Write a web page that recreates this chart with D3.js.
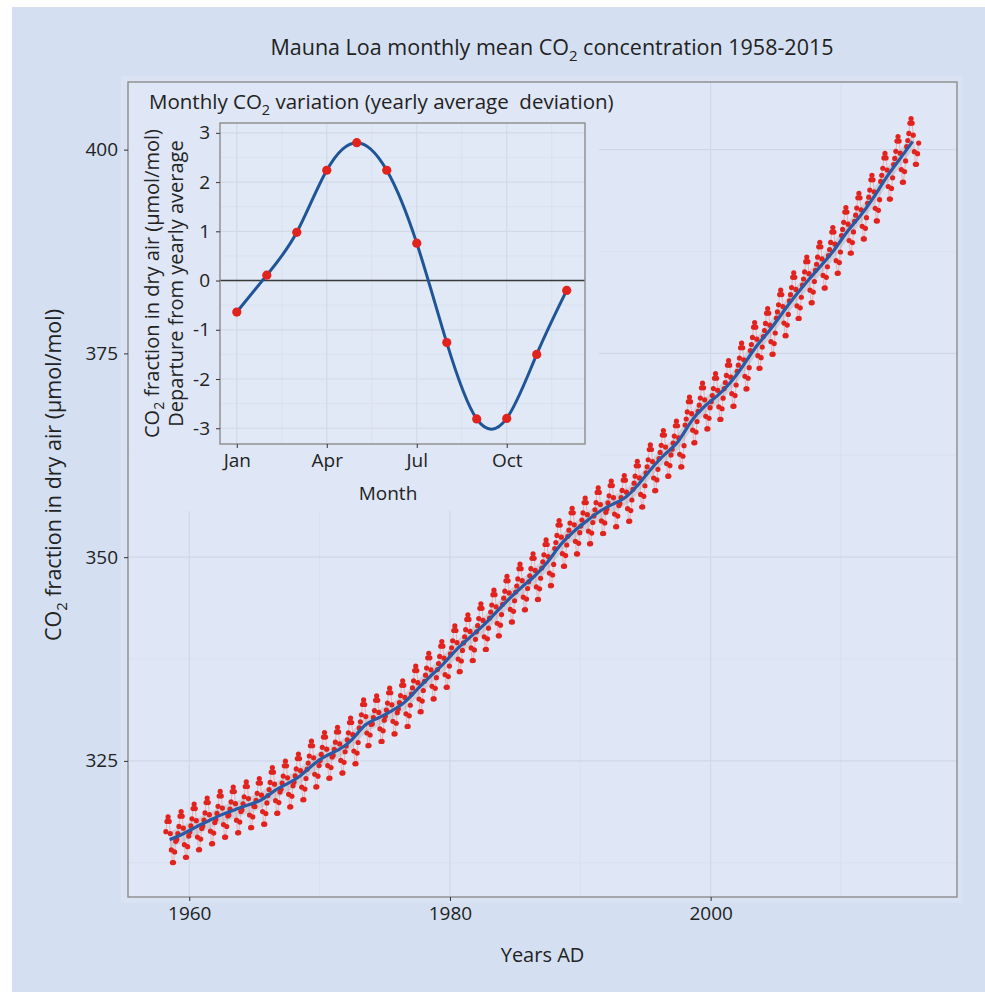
<!DOCTYPE html>
<html lang="en">
<head>
    <meta charset="utf-8">
    <script src="https://cdn.jsdelivr.net/npm/d3@7"></script>
    <style>
        body { margin: 0; background: #fff; }
        text { font-family: "Open Sans", sans-serif; fill: #222; }
        .tick text { font-size: 19px; fill: #222; font-family: "Open Sans", sans-serif; }
        .tick line { stroke: #333; }
    </style>
</head>
<body>
<script type="text/javascript">
    // yearly mean CO2 at Mauna Loa (1958 = Mar..Dec only)
    var years = [1958, 1959, 1960, 1961, 1962, 1963, 1964, 1965, 1966, 1967,
        1968, 1969, 1970, 1971, 1972, 1973, 1974, 1975, 1976, 1977,
        1978, 1979, 1980, 1981, 1982, 1983, 1984, 1985, 1986, 1987,
        1988, 1989, 1990, 1991, 1992, 1993, 1994, 1995, 1996, 1997,
        1998, 1999, 2000, 2001, 2002, 2003, 2004, 2005, 2006, 2007,
        2008, 2009, 2010, 2011, 2012, 2013, 2014, 2015];
    var annualMean = [315.33, 315.98, 316.91, 317.64, 318.45, 318.99, 319.62, 320.04, 321.38, 322.16,
        323.04, 324.62, 325.68, 326.32, 327.46, 329.68, 330.19, 331.12, 332.03, 333.84,
        335.41, 336.84, 338.76, 340.12, 341.48, 343.15, 344.85, 346.35, 347.61, 349.31,
        351.69, 353.20, 354.45, 355.70, 356.54, 357.21, 358.96, 360.97, 362.74, 363.88,
        366.84, 368.54, 369.71, 371.32, 373.45, 375.98, 377.70, 379.98, 382.09, 384.02,
        385.83, 387.64, 390.10, 391.85, 394.06, 396.74, 398.81, 401.01];
    var firstMonth = 3; // record starts March 1958

    // inset: monthly departure from yearly average
    var monthNumbers = [1, 2, 3, 4, 5, 6, 7, 8, 9, 10, 11, 12];
    var monthlyDeviation = [-0.64, 0.11, 0.98, 2.24, 2.80, 2.24, 0.76, -1.26, -2.81, -2.80, -1.50, -0.20];

    var mainXTicks = [1960, 1980, 2000];
    var mainXMinor = [1970, 1990, 2010];
    var mainYTicks = [325, 350, 375, 400];
    var mainYMinor = [312.5, 337.5, 362.5, 387.5];
    var insetXTicks = [1, 4, 7, 10];
    var insetXLabels = ["Jan", "Apr", "Jul", "Oct"];
    var insetXMinor = [2.5, 5.5, 8.5, 11.5];
    var insetYTicks = [-3, -2, -1, 0, 1, 2, 3];
    var insetYMinor = [-2.5, -1.5, -0.5, 0.5, 1.5, 2.5];

    var width = 985, height = 992;
    var panel = {left: 128, right: 957, top: 82, bottom: 897};
    var ipanel = {left: 220, right: 585, top: 123, bottom: 444};

    var panelFill = "#dfe6f5";
    var red = "#e2231d";
    var blue = "#2a5aa5";

    var svg = d3.select("body").append("svg")
        .attr("width", width)
        .attr("height", height);

    svg.append("rect").attr("x", 12).attr("y", 7)
        .attr("width", width - 12).attr("height", height - 7)
        .attr("fill", "#d4e0f1");
    svg.append("rect").attr("x", 121).attr("y", 76)
        .attr("width", 842).attr("height", 827)
        .attr("fill", "#d9e3f3");

    // monthly points built from yearly mean + monthly departure
    var monthly = [];
    years.forEach(function (yr, i) {
        monthNumbers.forEach(function (m, j) {
            if (i === 0 && m < firstMonth) return;
            monthly.push({t: yr + (m - 0.5) / 12, v: annualMean[i] + monthlyDeviation[j]});
        });
    });
    var trend = years.map(function (yr, i) { return {t: yr + 0.5, v: annualMean[i]}; });

    var x = d3.scaleLinear().domain([1955.3, 2018.9]).range([panel.left, panel.right]);
    var y = d3.scaleLinear().domain([308.3, 408.3]).range([panel.bottom, panel.top]);

    var g = svg.append("g");
    g.append("rect")
        .attr("x", panel.left).attr("y", panel.top)
        .attr("width", panel.right - panel.left).attr("height", panel.bottom - panel.top)
        .attr("fill", panelFill);

    // grid
    g.selectAll(".vminor").data(mainXMinor).enter().append("line")
        .attr("x1", function (d) { return x(d); }).attr("x2", function (d) { return x(d); })
        .attr("y1", panel.top).attr("y2", panel.bottom)
        .attr("stroke", "#d9e0ee").attr("stroke-width", 1);
    g.selectAll(".hminor").data(mainYMinor).enter().append("line")
        .attr("y1", function (d) { return y(d); }).attr("y2", function (d) { return y(d); })
        .attr("x1", panel.left).attr("x2", panel.right)
        .attr("stroke", "#d9e0ee").attr("stroke-width", 1);
    g.selectAll(".vmajor").data(mainXTicks).enter().append("line")
        .attr("x1", function (d) { return x(d); }).attr("x2", function (d) { return x(d); })
        .attr("y1", panel.top).attr("y2", panel.bottom)
        .attr("stroke", "#d0d8e8").attr("stroke-width", 1.2);
    g.selectAll(".hmajor").data(mainYTicks).enter().append("line")
        .attr("y1", function (d) { return y(d); }).attr("y2", function (d) { return y(d); })
        .attr("x1", panel.left).attr("x2", panel.right)
        .attr("stroke", "#d0d8e8").attr("stroke-width", 1.2);

    // inset background hides the main grid
    g.append("rect").attr("x", panel.left + 1).attr("y", panel.top + 1)
        .attr("width", 470).attr("height", 428).attr("fill", panelFill);

    // trend ribbon
    var ribbon = d3.area().curve(d3.curveBasis)
        .x(function (d) { return x(d.t); })
        .y0(function (d) { return y(d.v - 1.0); })
        .y1(function (d) { return y(d.v + 1.0); });
    g.append("path").datum(trend).attr("d", ribbon)
        .attr("fill", "#9a9a9a").attr("opacity", 0.3);

    g.append("path").datum(monthly)
        .attr("d", d3.line().x(function (d) { return x(d.t); }).y(function (d) { return y(d.v); }))
        .attr("fill", "none").attr("stroke", "#f09a9a").attr("stroke-width", 1).attr("opacity", 0.7);

    g.selectAll(".pt").data(monthly).enter().append("circle")
        .attr("cx", function (d) { return x(d.t); })
        .attr("cy", function (d) { return y(d.v); })
        .attr("r", 2.6)
        .attr("fill", red);

    g.append("path").datum(trend)
        .attr("d", d3.line().curve(d3.curveBasis)
            .x(function (d) { return x(d.t); }).y(function (d) { return y(d.v); }))
        .attr("fill", "none").attr("stroke", blue).attr("stroke-width", 3.2);

    g.append("rect")
        .attr("x", panel.left).attr("y", panel.top)
        .attr("width", panel.right - panel.left).attr("height", panel.bottom - panel.top)
        .attr("fill", "none").attr("stroke", "#8c8c8c").attr("stroke-width", 1.4);

    var xAxis = svg.append("g").attr("transform", "translate(0," + panel.bottom + ")")
        .call(d3.axisBottom(x).tickValues(mainXTicks).tickFormat(d3.format("d")).tickSize(4).tickPadding(6));
    xAxis.select(".domain").remove();
    var yAxis = svg.append("g").attr("transform", "translate(" + panel.left + ",0)")
        .call(d3.axisLeft(y).tickValues(mainYTicks).tickSize(4).tickPadding(6));
    yAxis.select(".domain").remove();

    // titles
    var title = svg.append("text").attr("x", 552).attr("y", 55)
        .attr("text-anchor", "middle").style("font-size", "21.5px");
    title.append("tspan").text("Mauna Loa monthly mean CO");
    title.append("tspan").attr("dy", 6).style("font-size", "15px").text("2");
    title.append("tspan").attr("dy", -6).text(" concentration 1958-2015");

    svg.append("text").attr("x", (panel.left + panel.right) / 2).attr("y", 962)
        .attr("text-anchor", "middle").style("font-size", "20px").text("Years AD");

    var ylab = svg.append("text")
        .attr("transform", "translate(61,475) rotate(-90)")
        .attr("text-anchor", "middle").style("font-size", "21.5px");
    ylab.append("tspan").text("CO");
    ylab.append("tspan").attr("dy", 6).style("font-size", "15px").text("2");
    ylab.append("tspan").attr("dy", -6).text(" fraction in dry air (\u03bcmol/mol)");

    // ---- inset ----
    var inset = svg.append("g");

    var ix = d3.scaleLinear().domain([0.44, 12.61]).range([ipanel.left, ipanel.right]);
    var iy = d3.scaleLinear().domain([-3.32, 3.2]).range([ipanel.bottom, ipanel.top]);

    inset.append("rect")
        .attr("x", ipanel.left).attr("y", ipanel.top)
        .attr("width", ipanel.right - ipanel.left).attr("height", ipanel.bottom - ipanel.top)
        .attr("fill", "#e1e8f6");

    inset.selectAll(".ivminor").data(insetXMinor).enter().append("line")
        .attr("x1", function (d) { return ix(d); }).attr("x2", function (d) { return ix(d); })
        .attr("y1", ipanel.top).attr("y2", ipanel.bottom)
        .attr("stroke", "#dae1ef");
    inset.selectAll(".ihminor").data(insetYMinor).enter().append("line")
        .attr("y1", function (d) { return iy(d); }).attr("y2", function (d) { return iy(d); })
        .attr("x1", ipanel.left).attr("x2", ipanel.right)
        .attr("stroke", "#dae1ef");
    inset.selectAll(".ivmajor").data(insetXTicks).enter().append("line")
        .attr("x1", function (d) { return ix(d); }).attr("x2", function (d) { return ix(d); })
        .attr("y1", ipanel.top).attr("y2", ipanel.bottom)
        .attr("stroke", "#d2d9e8").attr("stroke-width", 1.2);
    inset.selectAll(".ihmajor").data(insetYTicks).enter().append("line")
        .attr("y1", function (d) { return iy(d); }).attr("y2", function (d) { return iy(d); })
        .attr("x1", ipanel.left).attr("x2", ipanel.right)
        .attr("stroke", "#d2d9e8").attr("stroke-width", 1.2);

    inset.append("line")
        .attr("x1", ipanel.left).attr("x2", ipanel.right)
        .attr("y1", iy(0)).attr("y2", iy(0))
        .attr("stroke", "#3a3a3a").attr("stroke-width", 1.6);

    var seasonal = monthNumbers.map(function (m, i) { return {m: m, v: monthlyDeviation[i]}; });
    inset.append("path").datum(seasonal)
        .attr("d", d3.line().curve(d3.curveNatural)
            .x(function (d) { return ix(d.m); }).y(function (d) { return iy(d.v); }))
        .attr("fill", "none").attr("stroke", "#1f5597").attr("stroke-width", 3);
    inset.selectAll(".ipt").data(seasonal).enter().append("circle")
        .attr("cx", function (d) { return ix(d.m); })
        .attr("cy", function (d) { return iy(d.v); })
        .attr("r", 4.6).attr("fill", red);

    inset.append("rect")
        .attr("x", ipanel.left).attr("y", ipanel.top)
        .attr("width", ipanel.right - ipanel.left).attr("height", ipanel.bottom - ipanel.top)
        .attr("fill", "none").attr("stroke", "#8c8c8c").attr("stroke-width", 1.4);

    var ixAxis = inset.append("g").attr("transform", "translate(0," + ipanel.bottom + ")")
        .call(d3.axisBottom(ix).tickValues(insetXTicks)
            .tickFormat(function (d, i) { return insetXLabels[i]; }).tickSize(4).tickPadding(6));
    ixAxis.select(".domain").remove();
    var iyAxis = inset.append("g").attr("transform", "translate(" + ipanel.left + ",0)")
        .call(d3.axisLeft(iy).tickValues(insetYTicks)
            .tickFormat(function (d) { return String(d); }).tickSize(4).tickPadding(6));
    iyAxis.select(".domain").remove();

    var ititle = inset.append("text").attr("x", 149).attr("y", 109)
        .style("font-size", "20.5px").style("white-space", "pre");
    ititle.append("tspan").text("Monthly CO");
    ititle.append("tspan").attr("dy", 6).style("font-size", "14.5px").text("2");
    ititle.append("tspan").attr("dy", -6).text(" variation (yearly average  deviation)");

    inset.append("text").attr("x", 388).attr("y", 500)
        .attr("text-anchor", "middle").style("font-size", "19px").text("Month");

    var icy = (ipanel.top + ipanel.bottom) / 2;
    var il1 = inset.append("text")
        .attr("transform", "translate(159," + icy + ") rotate(-90)")
        .attr("text-anchor", "middle").style("font-size", "20px");
    il1.append("tspan").text("CO");
    il1.append("tspan").attr("dy", 5).style("font-size", "14px").text("2");
    il1.append("tspan").attr("dy", -5).text(" fraction in dry air (\u03bcmol/mol)");
    inset.append("text")
        .attr("transform", "translate(183," + icy + ") rotate(-90)")
        .attr("text-anchor", "middle").style("font-size", "20px")
        .text("Departure from yearly average");
</script>
</body>
</html>
